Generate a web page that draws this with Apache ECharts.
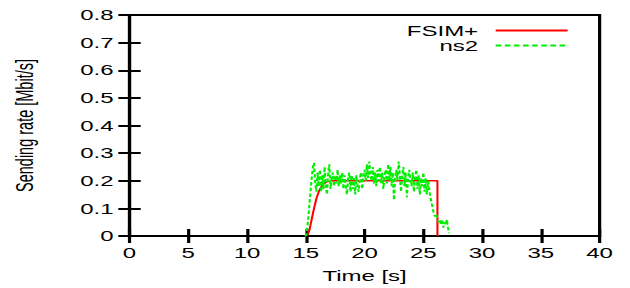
<!DOCTYPE html>
<html>
<head>
<meta charset="utf-8">
<script src="https://cdn.jsdelivr.net/npm/echarts@6/dist/echarts.min.js"></script>
<style>
  html, body { margin: 0; padding: 0; background: #fff; overflow: hidden; }
  /* the original gnuplot figure was stretched sideways, so draw narrow and widen */
  #chart { width: 394px; height: 288px; transform: scaleX(1.599); transform-origin: 0 0; }
</style>
</head>
<body>
<div id="chart"></div>
<script>
// FSIM+ model: smooth ramp then flat 0.2 until it stops
const fsimTime = [15.1, 15.3, 15.5, 15.7, 15.9, 16.1, 16.3, 16.5, 16.8, 17.2, 26.2, 26.2]
const fsimRate = [0, 0.02, 0.06, 0.1, 0.135, 0.16, 0.177, 0.188, 0.196, 0.2, 0.2, 0]

// ns2 trace, read every 0.1 s starting at 14.9 s
const ns2Start = 14.9
const ns2Rate = [
  // 14.9 - 15.7 s
  0, 0, 0.02, 0.06, 0.11, 0.16, 0.21, 0.25, 0.265,
  // 15.8 - 25.4 s
  0.19, 0.16, 0.23, 0.18, 0.24, 0.16, 0.22, 0.17, 0.25, 0.18,
  0.15, 0.23, 0.26, 0.17, 0.21, 0.23, 0.18, 0.22, 0.19, 0.24,
  0.18, 0.22, 0.19, 0.23, 0.17, 0.22, 0.18, 0.15, 0.21, 0.23,
  0.16, 0.22, 0.17, 0.21, 0.15, 0.22, 0.18, 0.16, 0.21, 0.23,
  0.17, 0.22, 0.24, 0.2, 0.26, 0.21, 0.27, 0.22, 0.2, 0.25,
  0.19, 0.23, 0.18, 0.24, 0.2, 0.25, 0.19, 0.23, 0.17, 0.22,
  0.24, 0.19, 0.26, 0.2, 0.25, 0.18, 0.23, 0.13, 0.21, 0.24,
  0.2, 0.27, 0.22, 0.16, 0.22, 0.25, 0.18, 0.23, 0.14, 0.21,
  0.24, 0.2, 0.18, 0.23, 0.16, 0.21, 0.24, 0.17, 0.22, 0.15,
  0.21, 0.18, 0.23, 0.16, 0.21, 0.15, 0.2,
  // 25.5 - 27.2 s
  0.17, 0.14, 0.12, 0.1, 0.08, 0.07, 0.08, 0.06, 0.05, 0.06,
  0.04, 0.06, 0.03, 0.05, 0.04, 0.06, 0.03, 0.01
]

const seriesNames = ['FSIM+', 'ns2']

const font = 'Liberation Sans, Arial, sans-serif'

let fsimData = fsimTime.map((t, i) => [t, fsimRate[i]])
let ns2Data = ns2Rate.map((v, i) => [+(ns2Start + i * 0.1).toFixed(1), v])

let tickStyle = { show: true, inside: true, length: 7, lineStyle: { color: '#000', width: 2 } }

let option = {
  animation: false,
  backgroundColor: '#fff',
  grid: {
    left: 80, right: 19, top: 15, bottom: 50,
    show: true, borderColor: '#000', borderWidth: 2
  },
  legend: {
    orient: 'vertical',
    right: 38,
    top: 23,
    padding: 0,
    align: 'right',
    itemWidth: 45,
    itemHeight: 15,
    itemGap: 0,
    data: seriesNames,
    itemStyle: { opacity: 0 },
    textStyle: { fontFamily: font, fontSize: 15, lineHeight: 15, color: '#000', padding: [0, 6, 0, 0] }
  },
  xAxis: [
    {
      type: 'value', min: 0, max: 40, interval: 5,
      name: 'Time [s]', nameLocation: 'middle', nameGap: 32,
      nameTextStyle: { fontFamily: font, fontSize: 15, color: '#000' },
      axisLine: { show: true, lineStyle: { color: '#000', width: 2 } },
      axisTick: tickStyle,
      axisLabel: { fontFamily: font, fontSize: 15, color: '#000', margin: 9 },
      splitLine: { show: false }
    },
    {
      type: 'value', min: 0, max: 40, interval: 5, position: 'top',
      axisLine: { show: false }, axisTick: tickStyle,
      axisLabel: { show: false }, splitLine: { show: false }
    }
  ],
  yAxis: [
    {
      type: 'value', min: 0, max: 0.8, interval: 0.1,
      name: 'Sending rate [Mbit/s]', nameLocation: 'middle', nameGap: 58,
      nameTextStyle: { fontFamily: font, fontSize: 14.5, color: '#000' },
      axisLine: { show: true, lineStyle: { color: '#000', width: 2 } },
      axisTick: tickStyle,
      axisLabel: {
        fontFamily: font, fontSize: 15, color: '#000', margin: 10,
        formatter: v => v === 0 ? '0' : v.toFixed(1)
      },
      splitLine: { show: false }
    },
    {
      type: 'value', min: 0, max: 0.8, interval: 0.1, position: 'right',
      axisLine: { show: false }, axisTick: tickStyle,
      axisLabel: { show: false }, splitLine: { show: false }
    }
  ],
  series: [
    {
      name: 'FSIM+', type: 'line', data: fsimData,
      symbol: 'none',
      lineStyle: { color: '#ff0000', width: 1.3 },
      itemStyle: { color: '#ff0000' }
    },
    {
      name: 'ns2', type: 'line', data: ns2Data,
      symbol: 'none',
      lineStyle: { color: '#00ee00', width: 1.3, type: [3.5, 2.2] },
      itemStyle: { color: '#00ee00' }
    }
  ]
}

let chart = echarts.init(document.getElementById('chart'), null, { renderer: 'svg' })
chart.setOption(option)
</script>
</body>
</html>
